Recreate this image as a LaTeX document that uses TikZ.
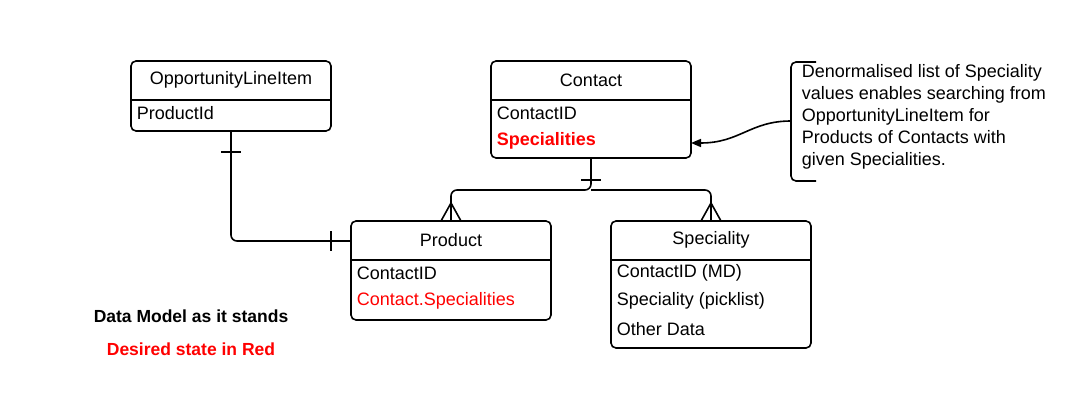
\documentclass[tikz,border=0pt]{standalone}
\usepackage{fontspec}
\setmainfont{Liberation Sans}
\usetikzlibrary{arrows.meta}
\begin{document}
\begin{tikzpicture}[x=1pt,y=-1pt,line width=1.6pt,
  ent/.style={draw,rounded corners=5pt},
  lbl/.style={anchor=west,font=\fontsize{18}{20}\selectfont,inner sep=0pt},
  ttl/.style={font=\fontsize{18}{20}\selectfont,inner sep=0pt},
  red/.style={text={rgb,255:red,255;green,0;blue,0}}]
\useasboundingbox (0,0) rectangle (1091,417);
% OpportunityLineItem
\draw[ent] (131,61) rectangle (331,131);
\draw (131,100) -- (331,100);
\node[ttl] (oli) at (231,80) {OpportunityLineItem};
\node[lbl] (olip) at (136,113) {ProductId};
\coordinate (olib) at (231,131);
% Contact
\draw[ent] (491,61) rectangle (691,158);
\draw (491,100) -- (691,100);
\node[ttl] (con) at (591,80) {Contact};
\node[lbl] at (496,113) {ContactID};
\node[lbl,red,font=\fontsize{18}{20}\selectfont\bfseries] at (496,141) {Specialities};
\coordinate (conb) at (591,158);
\coordinate (conr) at (691,143);
% Product
\draw[ent] (351,221) rectangle (551,320);
\draw (351,260) -- (551,260);
\node[ttl] (prod) at (451,240) {Product};
\node[lbl] at (356,273) {ContactID};
\node[lbl,red] at (356,301) {Contact.Specialities};
\coordinate (prodl) at (351,241);
\coordinate (prodt) at (451,221);
% Speciality
\draw[ent] (611,221) rectangle (811,348);
\draw (611,260) -- (811,260);
\node[ttl] (spec) at (711,240) {Speciality};
\node[lbl] at (616,273) {ContactID (MD)};
\node[lbl] at (616,301) {Speciality (picklist)};
\node[lbl] at (616,329) {Other Data};
\coordinate (spect) at (711,221);
% OLI - Product
\draw[rounded corners=6pt] (olib) |- (prodl);
\draw (221,152) -- (241,152);
\draw (331,231) -- (331,251);
% Contact - Product/Speciality
\draw[rounded corners=6pt] (conb) -- (591,190) -| (prodt);
\draw[rounded corners=6pt] (591,190) -| (spect);
\draw (581,180) -- (601,180);
\draw (441,221) -- (451,203) -- (461,221);
\draw (701,221) -- (711,203) -- (721,221);
% Callout
\draw[rounded corners=5pt] (816,62) -- (791,62) -- (791,181) -- (816,181);
\coordinate (brk) at (791,121);
\draw[-{Triangle[length=10pt,width=8pt]}] (brk) .. controls (750,121) and (740,143) .. (conr);
\node[anchor=north west,align=left,inner sep=0pt,font=\fontsize{18}{22}\selectfont] (note) at (801,64)
 {Denormalised list of Speciality\\values enables searching from\\OpportunityLineItem for\\Products of Contacts with\\given Specialities.};
% Legend
\node[ttl,font=\fontsize{17.5}{20}\selectfont\bfseries] (l1) at (191,316) {Data Model as it stands};
\node[ttl,red,font=\fontsize{17.5}{20}\selectfont\bfseries] (l2) at (191,349) {Desired state in Red};
\end{tikzpicture}
\end{document}
